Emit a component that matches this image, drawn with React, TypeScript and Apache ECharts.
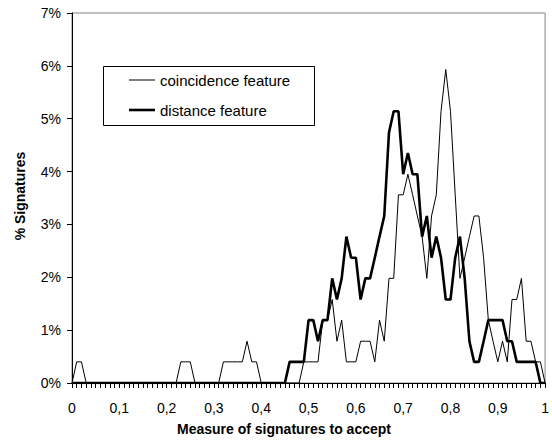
import React, { useEffect, useRef } from "react";
import * as echarts from "echarts";

// x grid: 0.00 .. 1.00 in steps of 0.01 (101 points)
const xCategories: string[] = Array.from({ length: 101 }, (_, i) => (i / 100).toFixed(2));
const xTickLabels = ["0", "0,1", "0,2", "0,3", "0,4", "0,5", "0,6", "0,7", "0,8", "0,9", "1"];
const yTickMax = 7;
const seriesNames = ["coincidence feature", "distance feature"];

// % of signatures, coincidence feature (thin line)
const coincidence = [
  0, 0.4, 0.4, 0, 0, 0, 0, 0, 0, 0,
  0, 0, 0, 0, 0, 0, 0, 0, 0, 0,
  0, 0, 0, 0.4, 0.4, 0.4, 0, 0, 0, 0,
  0, 0, 0.4, 0.4, 0.4, 0.4, 0.4, 0.79, 0.4, 0.4,
  0, 0, 0, 0, 0, 0, 0, 0, 0, 0.4,
  0.4, 0.4, 0.4, 1.19, 1.19, 1.58, 0.79, 1.19, 0.4, 0.4,
  0.4, 0.79, 0.79, 0.79, 0.4, 1.19, 0.79, 1.98, 1.98, 3.56,
  3.56, 3.95, 3.56, 3.16, 2.77, 1.98, 3.16, 3.56, 5.14, 5.93,
  5.14, 3.56, 1.98, 2.37, 2.77, 3.16, 3.16, 2.37, 1.19, 0.79,
  0.4, 0.79, 0.4, 1.58, 1.58, 1.98, 0.79, 0.79, 0.4, 0.4,
  0,
];

// % of signatures, distance feature (thick line)
const distance = [
  0, 0, 0, 0, 0, 0, 0, 0, 0, 0,
  0, 0, 0, 0, 0, 0, 0, 0, 0, 0,
  0, 0, 0, 0, 0, 0, 0, 0, 0, 0,
  0, 0, 0, 0, 0, 0, 0, 0, 0, 0,
  0, 0, 0, 0, 0, 0, 0.4, 0.4, 0.4, 0.4,
  1.19, 1.19, 0.79, 1.19, 1.19, 1.98, 1.58, 1.98, 2.77, 2.37,
  2.37, 1.58, 1.98, 1.98, 2.37, 2.77, 3.16, 4.74, 5.14, 5.14,
  3.95, 4.35, 3.95, 3.95, 2.77, 3.16, 2.37, 2.77, 2.37, 1.58,
  1.58, 2.37, 2.77, 1.98, 0.79, 0.4, 0.4, 0.79, 1.19, 1.19,
  1.19, 1.19, 0.79, 0.79, 0.4, 0.4, 0.4, 0.4, 0.4, 0,
  0,
];

const FONT = "'Liberation Sans', Arial, sans-serif";
const THIN = 1;
const THICK = 2.6;

export default function App() {
  const ref = useRef<HTMLDivElement>(null);
  useEffect(() => {
    if (!ref.current) return;
    const chart = echarts.init(ref.current, undefined, { renderer: "svg" });
    chart.setOption({
      animation: false,
      backgroundColor: "#fff",
      textStyle: { fontFamily: FONT },
      grid: {
        left: 72,
        right: 4,
        top: 13,
        bottom: 57,
        show: true,
        borderColor: "#808080",
        borderWidth: 1,
        backgroundColor: "transparent",
      },
      xAxis: {
        type: "category",
        data: xCategories,
        boundaryGap: false,
        axisLine: { lineStyle: { color: "#000", width: 1 } },
        axisTick: { show: true, interval: 0, length: 5, lineStyle: { color: "#000" } },
        axisLabel: {
          interval: (idx: number) => idx % 10 === 0,
          showMinLabel: true,
          showMaxLabel: true,
          margin: 18,
          fontSize: 14,
          color: "#000",
          fontFamily: FONT,
          formatter: (_v: string, idx: number) => xTickLabels[Math.round(idx / 10)] ?? "",
        },
        splitLine: { show: false },
      },
      yAxis: {
        type: "value",
        min: 0,
        max: yTickMax,
        interval: 1,
        axisLine: { show: true, lineStyle: { color: "#000", width: 1 } },
        axisTick: { show: true, length: 5, lineStyle: { color: "#000" } },
        axisLabel: { formatter: "{value}%", fontSize: 14, color: "#000", margin: 11, fontFamily: FONT },
        splitLine: { show: false },
      },
      graphic: [
        {
          type: "text",
          x: 284,
          y: 429,
          style: {
            text: "Measure of signatures to accept",
            font: `bold 14px ${FONT}`,
            fill: "#000",
            align: "center",
            verticalAlign: "middle",
          },
        },
        {
          type: "text",
          x: 20,
          y: 196,
          rotation: Math.PI / 2,
          style: {
            text: "% Signatures",
            font: `bold 14px ${FONT}`,
            fill: "#000",
            align: "center",
            verticalAlign: "middle",
          },
        },
        // legend box
        {
          type: "rect",
          shape: { x: 103.5, y: 66.5, width: 211, height: 59 },
          style: { fill: "#fff", stroke: "#000", lineWidth: 1 },
          z: 10,
        },
        {
          type: "line",
          shape: { x1: 129, y1: 80, x2: 155, y2: 80 },
          style: { stroke: "#000", lineWidth: THIN },
          z: 11,
        },
        {
          type: "text",
          x: 160,
          y: 80,
          style: { text: seriesNames[0], font: `15px ${FONT}`, fill: "#000", verticalAlign: "middle" },
          z: 11,
        },
        {
          type: "line",
          shape: { x1: 129, y1: 110, x2: 155, y2: 110 },
          style: { stroke: "#000", lineWidth: THICK },
          z: 11,
        },
        {
          type: "text",
          x: 160,
          y: 110,
          style: { text: seriesNames[1], font: `15px ${FONT}`, fill: "#000", verticalAlign: "middle" },
          z: 11,
        },
      ],
      series: [
        {
          name: seriesNames[0],
          type: "line",
          data: coincidence,
          symbol: "none",
          lineStyle: { color: "#000", width: THIN },
          itemStyle: { color: "#000" },
          z: 2,
        },
        {
          name: seriesNames[1],
          type: "line",
          data: distance,
          symbol: "none",
          lineStyle: { color: "#000", width: THICK },
          itemStyle: { color: "#000" },
          z: 3,
        },
      ],
    });
    return () => chart.dispose();
  }, []);
  return (
    <div
      ref={ref}
      style={{ position: "fixed", left: 0, top: 0, width: 552, height: 440 }}
    />
  );
}
